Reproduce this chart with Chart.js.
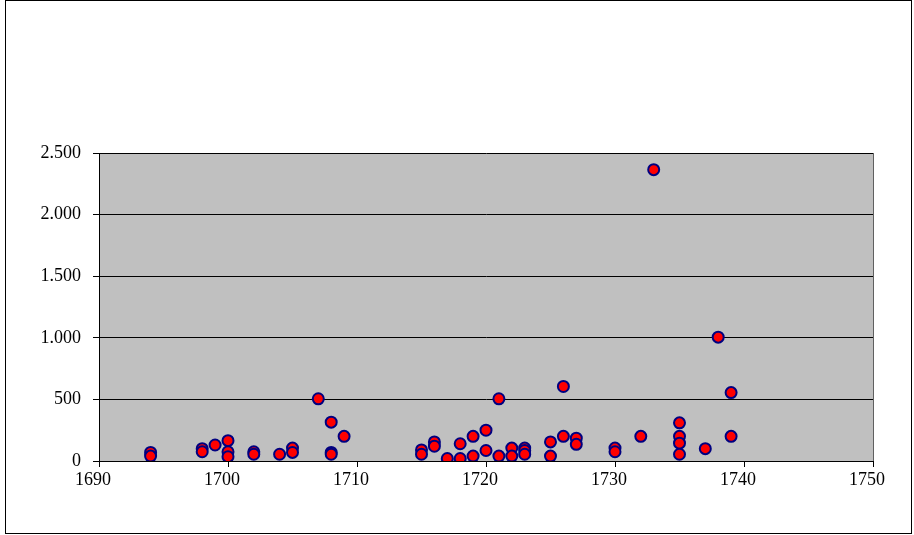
<!DOCTYPE html>
<html>
<head>
<meta charset="utf-8">
<script src="https://cdn.jsdelivr.net/npm/chart.js@4/dist/chart.umd.min.js"></script>
<style>
  html, body { margin: 0; padding: 0; background: #fff; }
  #wrap { width: 914px; height: 535px; position: relative; }
</style>
</head>
<body>
<div id="wrap"><canvas id="chart" width="914" height="535"></canvas></div>
<script>
// years (x) and values (y)
const years = [
    1694, 1694, 1698, 1698, 1699, 1700, 1700, 1700, 1702, 1702,
    1704, 1705, 1705, 1707, 1708, 1708, 1708, 1709, 1715, 1715,
    1716, 1716, 1717, 1718, 1718, 1719, 1719, 1720, 1720, 1721,
    1721, 1722, 1722, 1723, 1723, 1723, 1725, 1725, 1726, 1726,
    1727, 1727, 1730, 1730, 1732, 1733, 1735, 1735, 1735, 1735,
    1737, 1738, 1739, 1739
];
const values = [
    70, 40, 100, 75, 130, 165, 75, 35, 75, 55,
    55, 105, 70, 505, 315, 70, 55, 200, 90, 55,
    155, 120, 20, 140, 20, 200, 40, 250, 85, 505,
    40, 105, 40, 105, 85, 55, 155, 40, 605, 200,
    185, 135, 105, 75, 200, 2365, 310, 200, 145, 55,
    100, 1005, 555, 200
];
const xTicks = [1690, 1700, 1710, 1720, 1730, 1740, 1750];
const yTicks = [0, 500, 1000, 1500, 2000, 2500];

const points = years.map((yr, i) => ({ x: yr, y: values[i] }));

const plotBackground = {
    id: "plotBackground",
    beforeDraw(chart) {
        const { ctx, chartArea: a } = chart;
        ctx.save();
        ctx.fillStyle = "#fff";
        ctx.fillRect(0, 0, chart.width, chart.height);
        ctx.strokeStyle = "#000";
        ctx.lineWidth = 1;
        ctx.strokeRect(5.5, 0.5, 906, 533);
        ctx.fillStyle = "#c0c0c0";
        ctx.fillRect(a.left, a.top, a.right - a.left, a.bottom - a.top);
        ctx.strokeStyle = "#606060";
        ctx.beginPath();
        ctx.moveTo(a.right + 0.5, a.top);
        ctx.lineTo(a.right + 0.5, a.bottom);
        ctx.stroke();
        ctx.restore();
    },
};

const font = { family: "'Liberation Serif', 'Times New Roman', serif", size: 18 };

new Chart(document.getElementById("chart"), {
    type: "scatter",
    data: {
        datasets: [{
            data: points,
            pointRadius: 5.5,
            pointHoverRadius: 5.5,
            pointBackgroundColor: "#ff0000",
            pointBorderColor: "#000080",
            pointBorderWidth: 2,
        }],
    },
    options: {
        responsive: false,
        animation: false,
        events: [],
        layout: { padding: { left: 0, top: 153, right: 41, bottom: 0 } },
        plugins: {
            legend: { display: false },
            tooltip: { enabled: false },
        },
        scales: {
            x: {
                type: "linear",
                min: xTicks[0],
                max: xTicks[xTicks.length - 1],
                afterFit: s => { s.height = 74; },
                afterBuildTicks: s => { s.ticks = xTicks.map(v => ({ value: v })); },
                border: { display: true, color: "#000", width: 1 },
                grid: { drawOnChartArea: false, color: "#000", tickLength: 6 },
                ticks: { color: "#000", font, padding: 2, labelOffset: -6, maxRotation: 0, callback: v => String(v) },
            },
            y: {
                type: "linear",
                min: yTicks[0],
                max: yTicks[yTicks.length - 1],
                afterFit: s => { s.width = 99; },
                afterBuildTicks: s => { s.ticks = yTicks.map(v => ({ value: v })); },
                border: { display: true, color: "#000", width: 1 },
                grid: { color: "#000", tickLength: 6 },
                ticks: {
                    color: "#000", font, padding: 12,
                    callback: v => v.toString().replace(/\B(?=(\d{3})+(?!\d))/g, "."),
                },
            },
        },
    },
    plugins: [plotBackground],
});
</script>
</body>
</html>
